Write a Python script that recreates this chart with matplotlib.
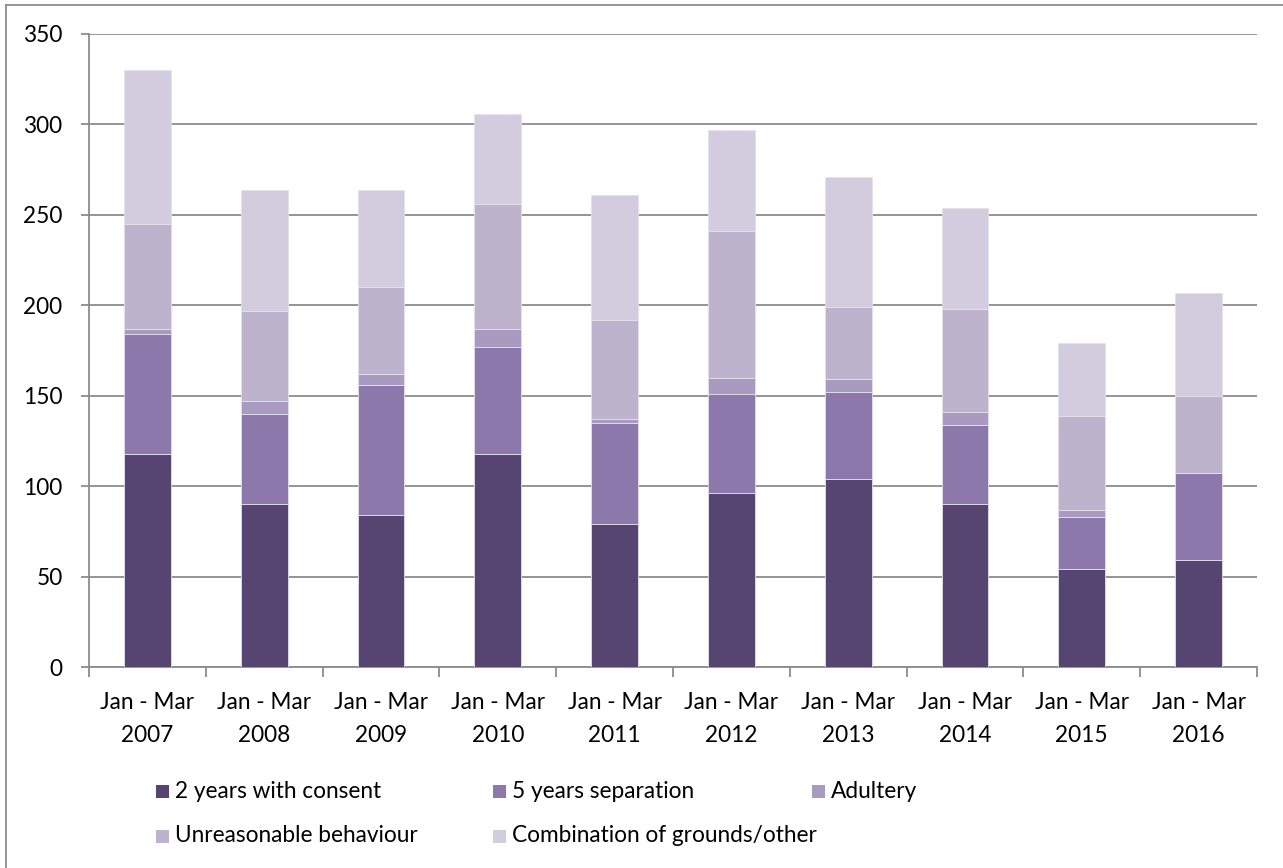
import matplotlib
matplotlib.use("Agg")
import matplotlib.pyplot as plt
from matplotlib.patches import Rectangle
from matplotlib.lines import Line2D
import numpy as np

plt.rcParams['font.family'] = ['Lato', 'DejaVu Sans']

categories = ["Jan - Mar\n2007", "Jan - Mar\n2008", "Jan - Mar\n2009", "Jan - Mar\n2010",
              "Jan - Mar\n2011", "Jan - Mar\n2012", "Jan - Mar\n2013", "Jan - Mar\n2014",
              "Jan - Mar\n2015", "Jan - Mar\n2016"]

two_years_consent = [118, 90, 84, 118, 79, 96, 104, 90, 54, 59]
five_years_separation = [66, 50, 72, 59, 56, 55, 48, 44, 29, 48]
adultery = [3, 7, 6, 10, 2, 9, 7, 7, 4, 0]
unreasonable_behaviour = [58, 50, 48, 69, 55, 81, 40, 57, 52, 43]
combination_other = [85, 67, 54, 50, 69, 56, 72, 56, 40, 57]

series_names = ["2 years with consent", "5 years separation", "Adultery",
                "Unreasonable behaviour", "Combination of grounds/other"]
series_values = [two_years_consent, five_years_separation, adultery,
                 unreasonable_behaviour, combination_other]
colors = ["#574571", "#8d78ab", "#a99bc0", "#bdb3cd", "#d2ccde"]

FS = 16.3

W, H = 1283, 868
fig = plt.figure(figsize=(W / 100, H / 100), dpi=100)
ax = fig.add_axes([89 / W, 1 - 667 / H, (1257 - 89) / W, (667 - 34) / H])

x = np.arange(len(categories))
bottom = np.zeros(len(categories))
for name, vals, col in zip(series_names, series_values, colors):
    vals = np.array(vals, dtype=float)
    ax.bar(x, vals, bottom=bottom, width=0.4, color=col, edgecolor="#e4e0ec",
           linewidth=0.6, label=name, zorder=3)
    bottom += vals

grid_col = "#8c8c8c"
ax.set_xlim(-0.5, len(categories) - 0.5)
ax.set_ylim(0, 350)
ax.set_yticks(np.arange(0, 351, 50))
ax.yaxis.grid(True, color=grid_col, linewidth=1.3, zorder=0)
ax.set_axisbelow(True)

for s in ["top", "right"]:
    ax.spines[s].set_visible(False)
for s in ["left", "bottom"]:
    ax.spines[s].set_color(grid_col)
    ax.spines[s].set_linewidth(1.3)

ax.tick_params(axis="y", length=6, width=1.3, color=grid_col, pad=13,
               labelsize=FS, labelcolor="black")
# category boundary ticks on the x axis
ax.set_xticks(np.arange(-0.5, len(categories), 1.0))
ax.set_xticklabels([])
ax.set_xticks(x, minor=True)
ax.set_xticklabels(categories, minor=True, fontsize=FS, linespacing=1.68)
ax.tick_params(axis="x", which="major", length=7, width=1.3, color=grid_col)
ax.tick_params(axis="x", which="minor", length=0, pad=18)

# chart frame
fig.add_artist(Line2D([6 / W, 6 / W], [0, 1 - 5 / H], transform=fig.transFigure,
                      color=grid_col, linewidth=1.3))
fig.add_artist(Line2D([6 / W, 1], [1 - 5 / H, 1 - 5 / H], transform=fig.transFigure,
                      color=grid_col, linewidth=1.3))

# legend, laid out in rows
legend_pos = [(156, 791), (493, 791), (812, 791), (156, 836), (493, 836)]
sq = 13
for (px, py), name, col in zip(legend_pos, series_names, colors):
    fig.add_artist(Rectangle((px / W, 1 - (py + sq / 2) / H), sq / W, sq / H,
                             transform=fig.transFigure, facecolor=col, edgecolor="none"))
    fig.text((px + sq + 6) / W, 1 - py / H, name, fontsize=FS, va="center", ha="left")

fig.savefig("out.png", dpi=100, facecolor="white")
